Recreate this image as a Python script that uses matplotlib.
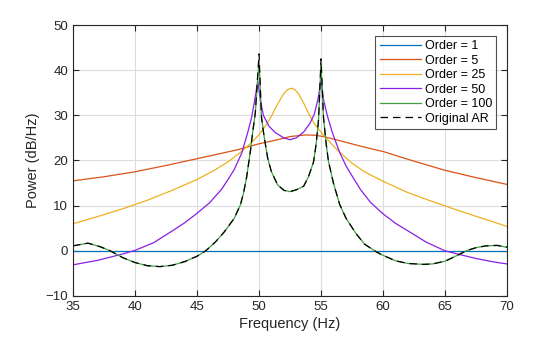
import matplotlib
matplotlib.use("Agg")
from matplotlib import pyplot as plt

# values
f_order1 = [35, 45, 55, 70]
p_order1 = [0, 0, 0, 0]

f_order5 = [35.0, 37.5, 40.0, 42.5, 45.0, 46.5, 48.3, 50.0, 51.5, 52.5, 53.7, 54.5,
            55.2, 56.5, 58.0, 59.5, 60.0, 62.2, 64.9, 67.5, 70.0]
p_order5 = [15.5, 16.4, 17.5, 18.9, 20.4, 21.3, 22.4, 23.7, 24.6, 25.3, 25.65, 25.6,
            25.3, 24.4, 23.3, 22.3, 22.0, 20.1, 17.9, 16.2, 14.7]

f_order25 = [35.0, 37.0, 39.0, 41.0, 43.0, 45.0, 46.5, 47.5, 48.6, 49.4, 50.0, 50.5,
             51.0, 51.5, 52.0, 52.3, 52.6, 52.9, 53.2, 53.6, 54.0, 54.5, 55.2, 56.0,
             56.6, 57.5, 58.5, 60.0, 62.0, 64.0, 66.0, 68.0, 70.0]
p_order25 = [6.0, 7.6, 9.3, 11.2, 13.4, 15.8, 18.0, 19.7, 22.0, 24.0, 25.7, 27.6,
             29.8, 32.5, 34.8, 35.7, 36.0, 35.7, 34.7, 32.7, 30.4, 28.0, 25.6, 23.2,
             21.6, 19.4, 17.5, 15.4, 12.9, 10.9, 9.0, 7.2, 5.4]

f_order50 = [35.0, 37.0, 39.0, 40.0, 41.5, 43.0, 44.0, 45.0, 46.0, 47.0, 47.5, 48.0,
             48.6, 49.1, 49.4, 49.6, 49.9, 50.1, 50.35, 50.8, 51.3, 52.0, 52.5, 53.0,
             53.6, 54.1, 54.45, 54.75, 55.0, 55.2, 55.5, 55.9, 56.5, 57.0, 57.5, 58.2,
             59.0, 60.0, 61.0, 62.2, 63.5, 65.0, 66.3, 67.5, 69.0, 70.0]
p_order50 = [-3.1, -2.1, -0.7, 0.1, 1.8, 4.4, 6.2, 8.3, 10.6, 13.7, 15.8, 18.0,
             21.6, 26.3, 29.5, 32.5, 37.6, 33.5, 30.0, 27.6, 26.2, 25.0, 24.6, 25.0,
             26.3, 28.2, 30.2, 33.5, 37.8, 33.5, 30.0, 26.3, 21.8, 18.9, 16.6, 13.5,
             10.7, 8.2, 6.1, 4.1, 1.9, 0.0, -0.9, -1.7, -2.5, -2.9]

f_ar = [35.0, 36.2, 37.2, 38.0, 39.0, 40.0, 41.0, 42.0, 43.0, 44.0, 45.0, 45.7,
        46.5, 47.2, 48.0, 48.5, 48.75, 49.0, 49.3, 49.5, 49.7, 50.0, 50.2, 50.4, 50.7,
        51.0, 51.5, 52.0, 52.5, 53.0, 53.6, 54.0, 54.4, 54.6, 54.8, 55.0, 55.2,
        55.4, 55.6, 56.0, 56.5, 57.0, 57.8, 58.5, 59.5, 60.0, 61.0, 62.0, 63.3,
        64.0, 65.0, 66.0, 66.7, 67.5, 68.3, 69.2, 70.0]
p_ar = [1.1, 1.7, 0.9, 0.0, -1.5, -2.6, -3.3, -3.5, -3.2, -2.4, -1.2, 0.0,
        2.0, 4.2, 7.2, 10.2, 12.8, 16.3, 22.0, 26.5, 30.5, 43.6, 29.5, 25.5, 20.5,
        17.5, 14.6, 13.4, 13.1, 13.5, 14.3, 16.5, 19.7, 23.5, 29.0, 42.5, 29.5,
        24.0, 19.8, 15.0, 10.3, 7.3, 3.9, 1.5, -0.3, -1.0, -2.2, -2.8, -3.0,
        -2.9, -2.3, -1.0, 0.0, 0.7, 1.1, 1.2, 0.8]

f_order100 = f_ar
p_order100 = [1.1, 1.7, 0.9, 0.0, -1.5, -2.6, -3.3, -3.5, -3.2, -2.4, -1.2, 0.0,
              2.0, 4.2, 7.2, 10.2, 12.8, 16.3, 22.0, 26.5, 30.5, 42.0, 29.5, 25.5, 20.5,
              17.5, 14.6, 13.4, 13.1, 13.5, 14.3, 16.5, 19.7, 23.5, 29.0, 41.5, 29.5,
              24.0, 19.8, 15.0, 10.3, 7.3, 3.9, 1.5, -0.3, -1.0, -2.2, -2.8, -3.0,
              -2.9, -2.3, -1.0, 0.0, 0.7, 1.1, 1.2, 0.8]

x_ticks = [35, 40, 45, 50, 55, 60, 65, 70]
y_ticks = [-10, 0, 10, 20, 30, 40, 50]

plt.rcParams['font.family'] = ['Liberation Sans', 'DejaVu Sans']

fig = plt.figure(figsize=(5.6, 3.37), dpi=100)
ax = fig.add_axes([0.1304, 0.1217, 0.7750, 0.8041])

lw = 0.9
ax.plot(f_order1, p_order1, color='#0072BD', lw=lw, label='Order = 1')
ax.plot(f_order5, p_order5, color='#D95319', lw=lw, label='Order = 5')
ax.plot(f_order25, p_order25, color='#EDB120', lw=lw, label='Order = 25')
ax.plot(f_order50, p_order50, color='#8A1EE6', lw=lw, label='Order = 50')
ax.plot(f_order100, p_order100, color='#3FA03F', lw=lw, label='Order = 100')
ax.plot(f_ar, p_ar, color='black', lw=lw, ls=(0, (6, 4)), label='Original AR')

ax.set_xlim(35, 70)
ax.set_ylim(-10, 50)
ax.set_xticks(x_ticks)
ax.set_yticks(y_ticks)
ax.grid(True, color='#dcdcdc', lw=0.8)
ax.set_axisbelow(True)
ax.tick_params(direction='in', top=True, right=True, labelsize=9.5, colors='#262626',
               length=4)
for s in ax.spines.values():
    s.set_color('#262626')
    s.set_linewidth(0.8)

ax.set_xlabel('Frequency (Hz)', fontsize=10.5, color='#262626', labelpad=3)
ax.set_ylabel('Power (dB/Hz)', fontsize=10.5, color='#262626', labelpad=4)

leg = ax.legend(loc='upper right', fontsize=9, handlelength=3.3, frameon=True,
                fancybox=False, borderpad=0.35, labelspacing=0.2, handletextpad=0.3,
                borderaxespad=0.85)
leg.get_frame().set_edgecolor('#262626')
leg.get_frame().set_linewidth(0.8)

fig.savefig('out.png', dpi=100)
